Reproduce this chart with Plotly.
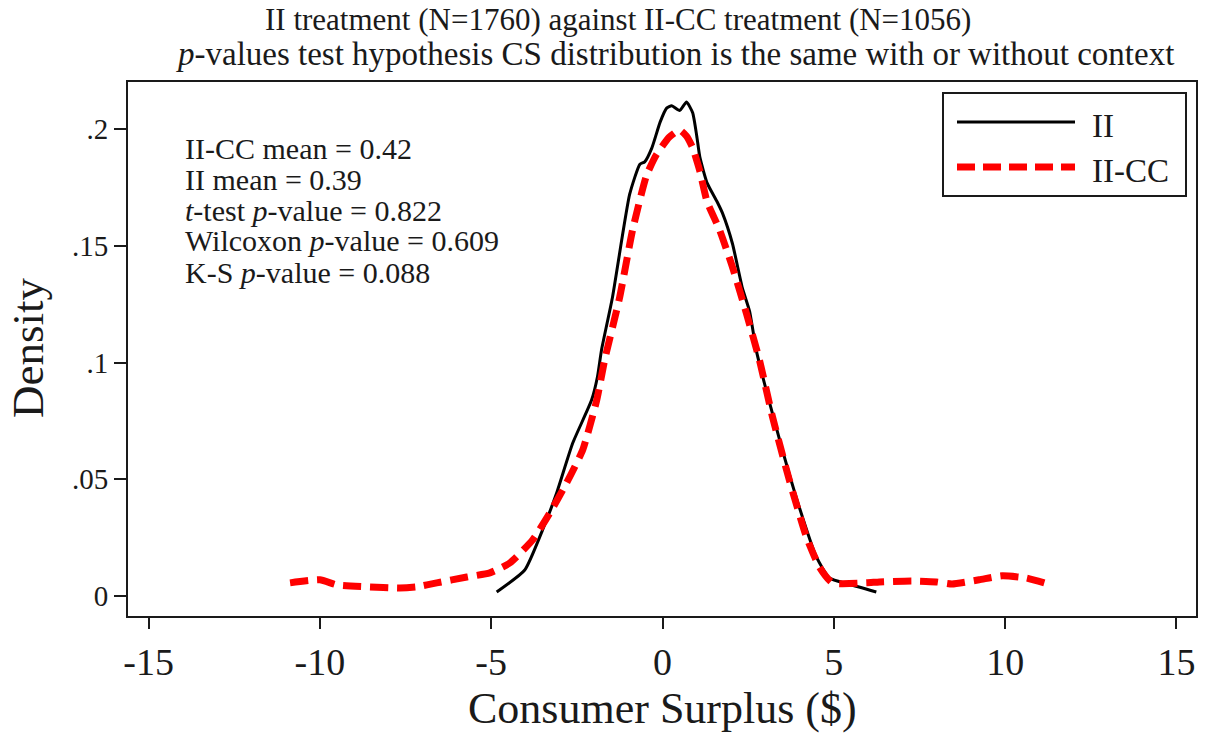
import plotly.graph_objects as go

# ---- data ----
ii_x = [-4.84, -4.02, -3.50, -3.09, -2.62, -2.07, -1.90, -1.78, -1.46, -0.96, -0.66, -0.52,
        -0.31, -0.07, 0.12, 0.27, 0.50, 0.70, 0.88, 1.00, 1.09, 1.30, 1.59, 1.75, 2.04, 2.33,
        2.54, 2.74, 3.03, 3.50, 3.99, 4.49, 4.87, 5.45, 6.24]
ii_y = [0.0017, 0.0111, 0.0283, 0.0441, 0.0655, 0.0839, 0.0938, 0.1054, 0.128, 0.172, 0.185, 0.186,
        0.192, 0.203, 0.209, 0.210, 0.208, 0.2116, 0.207, 0.197, 0.188, 0.177, 0.169, 0.164, 0.151, 0.132,
        0.122, 0.105, 0.088, 0.0625, 0.0381, 0.0167, 0.0077, 0.0050, 0.0017]

iicc_x = [-10.87, -10.0, -9.50, -8.63, -7.67, -7.17, -6.59, -5.71, -5.04, -4.46, -3.79, -3.29,
          -2.80, -2.33, -1.92, -1.69, -1.25, -0.87, -0.47, -0.18, 0.20, 0.50, 0.70, 0.88, 1.09,
          1.30, 1.66, 2.04, 2.45, 2.83, 3.21, 3.70, 4.20, 4.58, 4.96, 5.95, 6.33, 7.29, 7.99,
          8.45, 9.24, 9.91, 10.61, 11.34]
iicc_y = [0.0056, 0.0069, 0.0047, 0.0039, 0.0034, 0.0039, 0.0056, 0.0081, 0.0099, 0.0141, 0.024, 0.0355,
          0.0484, 0.0625, 0.0839, 0.101, 0.128, 0.157, 0.180, 0.189, 0.1966, 0.1996, 0.197, 0.192, 0.182,
          0.169, 0.157, 0.141, 0.121, 0.101, 0.0767, 0.0497, 0.0253, 0.0124, 0.0056, 0.0056, 0.0060, 0.0064, 0.0060,
          0.0051, 0.0069, 0.0086, 0.0077, 0.0047]

x_ticks = [-15, -10, -5, 0, 5, 10, 15]
x_ticklabels = ["-15", "-10", "-5", "0", "5", "10", "15"]
y_ticks = [0, 0.05, 0.1, 0.15, 0.2]
y_ticklabels = ["0", ".05", ".1", ".15", ".2"]

stats_lines = [
    "II-CC mean = 0.42",
    "II mean = 0.39",
    "<i>t</i>-test <i>p</i>-value = 0.822",
    "Wilcoxon <i>p</i>-value = 0.609",
    "K-S <i>p</i>-value = 0.088",
]
title_line1 = "II treatment (N=1760) against II-CC treatment (N=1056)"
title_line2 = "<i>p</i>-values test hypothesis CS distribution is the same with or without context"
x_title = "Consumer Surplus ($)"
y_title = "Density"

FONT = "Liberation Serif"
TXT = "#1a1a1a"
W, H = 1209, 737
L, R, T, B = 128, 13, 82, 121
PW, PH = W - L - R, H - T - B


def px(xp):
    return (xp - L) / PW


def py(yp):
    return (H - B - yp) / PH


fig = go.Figure()
fig.add_trace(go.Scatter(x=ii_x, y=ii_y, mode="lines", name="II",
                         line=dict(color="black", width=3, shape="spline", smoothing=0.5),
                         showlegend=False))
fig.add_trace(go.Scatter(x=iicc_x, y=iicc_y, mode="lines", name="II-CC",
                         line=dict(color="#ff0000", width=7, dash="18px,9px", shape="spline", smoothing=0.5),
                         showlegend=False))

annotations = []
# titles
annotations.append(dict(text=title_line1, x=px(618), y=py(19), xref="paper", yref="paper",
                        xanchor="center", yanchor="middle", showarrow=False,
                        font=dict(family=FONT, size=31, color=TXT)))
annotations.append(dict(text=title_line2, x=px(675), y=py(54), xref="paper", yref="paper",
                        xanchor="center", yanchor="middle", showarrow=False,
                        font=dict(family=FONT, size=33, color=TXT)))
# axis titles
annotations.append(dict(text=x_title, x=px(662), y=py(708), xref="paper", yref="paper",
                        xanchor="center", yanchor="middle", showarrow=False,
                        font=dict(family=FONT, size=44, color=TXT)))
annotations.append(dict(text=y_title, x=px(28), y=py(348), xref="paper", yref="paper",
                        xanchor="center", yanchor="middle", showarrow=False, textangle=-90,
                        font=dict(family=FONT, size=45, color=TXT)))
# stats block
for i, s in enumerate(stats_lines):
    annotations.append(dict(text=s, x=px(183), y=py(148 + 31 * i), xref="paper", yref="paper",
                            xanchor="left", yanchor="middle", showarrow=False,
                            font=dict(family=FONT, size=30, color=TXT)))
# legend entries
leg_items = [("II", 122, dict(color="black", width=3)),
             ("II-CC", 167, dict(color="#ff0000", width=7, dash="18px,8px"))]
shapes = [dict(type="rect", xref="paper", yref="paper", x0=px(943), x1=px(1186), y0=py(196), y1=py(93),
               line=dict(color=TXT, width=2), fillcolor="white")]
for name, yp, ln in leg_items:
    shapes.append(dict(type="line", xref="paper", yref="paper", x0=px(957), x1=px(1075),
                       y0=py(yp), y1=py(yp), line=ln))
    annotations.append(dict(text=name, x=px(1090), y=py(yp + 4), xref="paper", yref="paper",
                            xanchor="left", yanchor="middle", showarrow=False,
                            font=dict(family=FONT, size=33, color=TXT)))

fig.update_layout(
    width=W, height=H,
    margin=dict(l=L, r=R, t=T, b=B, autoexpand=False),
    paper_bgcolor="white", plot_bgcolor="white",
    font=dict(family=FONT, color=TXT),
    annotations=annotations,
    shapes=shapes,
    showlegend=False,
)
fig.update_xaxes(range=[-15.6, 15.57], tickvals=x_ticks, ticktext=x_ticklabels,
                 showgrid=False, zeroline=False, showline=True, mirror=True,
                 linecolor=TXT, linewidth=2, ticks="outside", ticklen=11, tickwidth=2,
                 tickcolor=TXT, tickfont=dict(family=FONT, size=38, color=TXT))
fig.update_yaxes(range=[-0.0086, 0.2202], tickvals=y_ticks, ticktext=y_ticklabels,
                 showgrid=False, zeroline=False, showline=True, mirror=True,
                 linecolor=TXT, linewidth=2, ticks="outside", ticklen=12, tickwidth=2,
                 tickcolor=TXT, tickfont=dict(family=FONT, size=29, color=TXT))

fig.write_html("out.html")
